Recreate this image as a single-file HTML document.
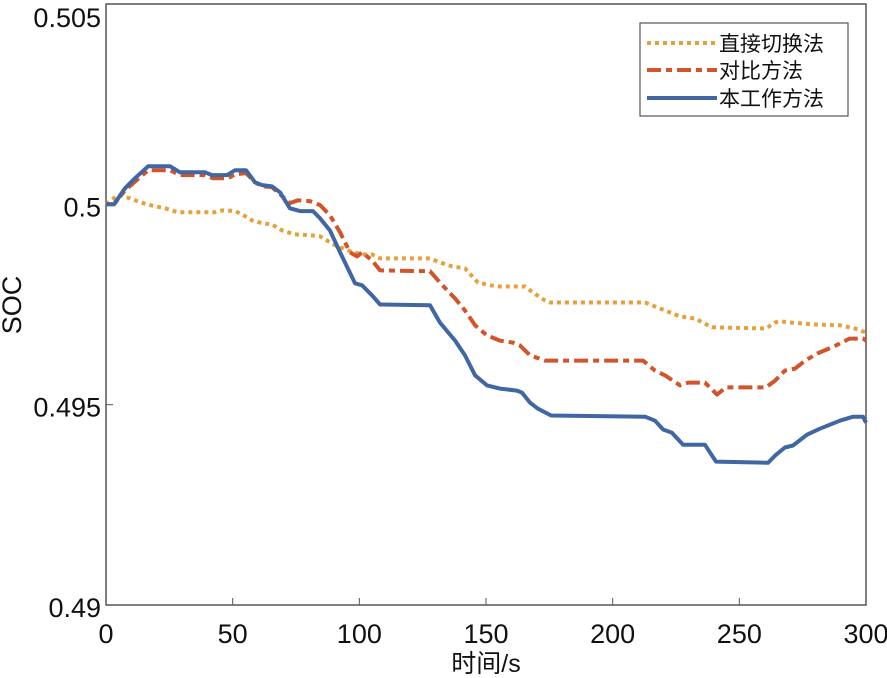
<!DOCTYPE html>
<html><head><meta charset="utf-8"><style>
html,body{margin:0;padding:0;background:#fff;}
svg{display:block;font-family:"Liberation Sans","Noto Sans CJK SC",sans-serif;}
</style></head><body>
<svg id="chart" width="887" height="678" viewBox="0 0 887 678">
<g id="axes"></g>
<g id="series"></g>
<g id="legend"></g>
</svg>
<script>
const xTicks=[0,50,100,150,200,250,300];
const yTicks=[0.49,0.495,0.5,0.505];
const yTickLabels=["0.49","0.495","0.5","0.505"];
const seriesNames=["直接切换法","对比方法","本工作方法"];
const tDirect=[0,4.7,9.5,13.4,17.4,23.3,28.4,37.1,43,46.2,50.9,53.7,57.6,61.6,65.5,69.5,74.4,80.5,84.5,90.4,96.3,101.1,105,108.2,127.9,131.8,136.6,141.7,146.8,151.6,155.5,165.4,168.5,173.3,175.3,212.8,216.7,220.7,226.6,232.5,239.2,260.5,264.1,266,270,274,279.9,289.7,295.6,300];
const vDirect=[0.5,0.50023,0.50015,0.50005,0.49998,0.4999,0.4998,0.4998,0.4998,0.49985,0.49983,0.49975,0.4996,0.49953,0.4995,0.49935,0.49925,0.49923,0.4992,0.49898,0.49883,0.49875,0.49875,0.49865,0.49865,0.49855,0.49845,0.4984,0.49805,0.49798,0.49795,0.49795,0.4978,0.4976,0.49755,0.49755,0.49745,0.49735,0.4972,0.49715,0.49693,0.4969,0.49705,0.49708,0.49705,0.49703,0.497,0.49698,0.4969,0.4968];
const tCompare=[0,3.2,7.5,16.6,25.3,29.2,39.1,42.2,48.2,50.9,55.3,58.8,61.6,65.5,72.6,75.8,80.5,84.5,88.4,92.4,96.3,99.1,101.1,105,108.2,127.9,131.8,137.8,141.7,145.7,150.4,155.5,160.6,163.4,167.4,173.3,212,216.7,220.7,226.6,229.8,236.4,239.6,241.2,244.7,260.5,264.1,268,272,276,280.9,287.2,293.5,298.8,300];
const vCompare=[0.5,0.5,0.50035,0.50085,0.50085,0.50073,0.50073,0.50065,0.50065,0.50075,0.50078,0.50055,0.50045,0.50043,0.50003,0.5001,0.50008,0.49998,0.49973,0.4993,0.4988,0.4987,0.4988,0.4986,0.49835,0.49833,0.49805,0.49765,0.49735,0.49698,0.49673,0.4966,0.49655,0.49648,0.49623,0.4961,0.4961,0.49585,0.49573,0.49548,0.49555,0.49555,0.49535,0.49525,0.49543,0.49543,0.4956,0.49585,0.4959,0.4961,0.49628,0.49645,0.49665,0.49665,0.4966];
const tOurs=[0,3.2,7.5,11.4,16.6,25.3,29.2,39.1,41.8,47.8,50.9,55.3,58.8,61.6,65.5,68.7,72.6,76.6,81.7,84.5,88.4,92.4,98.3,101.1,105,108.2,127.9,131.8,137.8,141.7,145.7,150.4,155.5,162.2,164.2,167.4,170.5,175.7,212.8,216.7,219.9,223.4,227.8,236.4,240.8,261.3,264.1,268,271.2,276.7,281.8,289.7,294.9,298.8,300];
const vOurs=[0.5,0.5,0.5004,0.50065,0.50095,0.50095,0.5008,0.5008,0.50073,0.50073,0.50085,0.50085,0.50055,0.50048,0.50045,0.5003,0.4999,0.49983,0.49983,0.49965,0.49935,0.4988,0.49803,0.49798,0.49773,0.4975,0.49748,0.49705,0.4966,0.49623,0.49573,0.49548,0.4954,0.49535,0.4953,0.49505,0.4949,0.49473,0.4947,0.4946,0.49438,0.4943,0.494,0.494,0.49358,0.49355,0.49373,0.49393,0.49398,0.49425,0.4944,0.4946,0.4947,0.4947,0.49455];

const L=106,R=866,T=4,B=605;
const xs=t=>L+(t-0)/(300-0)*(R-L);
const ys=v=>B-(v-0.49)/(0.505-0.49)*(B-T);
const NS="http://www.w3.org/2000/svg";
function mk(tag,attrs,parent){const e=document.createElementNS(NS,tag);for(const k in attrs)e.setAttribute(k,attrs[k]);parent.appendChild(e);return e;}
const axes=document.getElementById('axes');
const frame=mk('rect',{x:L,y:T,width:R-L,height:B-T,fill:'none',stroke:'#555',"stroke-width":1.5},axes);


xTicks.forEach(t=>{
  const x=xs(t);
  const tk=mk('line',{x1:x,x2:x,y1:B,y2:B-7,stroke:'#555',"stroke-width":1},axes);
  
  
  const lb=mk('text',{x:x,y:643,"text-anchor":"middle","font-size":27,fill:'#111'},axes);
  lb.textContent=String(t);
  
  
});
yTicks.forEach((v,i)=>{
  const y=ys(v);
  const tk=mk('line',{x1:L,x2:L+7,y1:y,y2:y,stroke:'#555',"stroke-width":1},axes);
  
  
  const lb=mk('text',{x:101,y:Math.max(y+12,27),"text-anchor":"end","font-size":27,fill:'#111'},axes);
  lb.textContent=yTickLabels[i];
  
  
});
const xt=mk('text',{x:486,y:672,"text-anchor":"middle","font-size":25,fill:'#111'},axes);
xt.textContent="时间/s";


const yt=mk('text',{x:0,y:0,"text-anchor":"middle","font-size":27,fill:'#111',transform:"translate(21,305) rotate(-90)"},axes);
yt.textContent="SOC";



const styles=[
 {c:'#e5a23c',d:'4 4',n:'series-direct-switch'},
 {c:'#d1542a',d:'14 5 6 5',n:'series-comparison'},
 {c:'#4066a3',d:'',n:'series-this-work'}];
const data=[[tDirect,vDirect],[tCompare,vCompare],[tOurs,vOurs]];
const sg=document.getElementById('series');
data.forEach((d,i)=>{
  const pts=d[0].map((t,j)=>xs(t).toFixed(1)+','+ys(d[1][j]).toFixed(1)).join(' ');
  const a={points:pts,fill:'none',stroke:styles[i].c,"stroke-width":4,"stroke-linejoin":"round"};
  if(styles[i].d)a["stroke-dasharray"]=styles[i].d;
  const pl=mk('polyline',a,sg);
  
  
});
const lg=document.getElementById('legend');
const box=mk('rect',{x:640,y:23,width:208,height:93,fill:'#fff',stroke:'#555',"stroke-width":1.2},lg);


const rowsY=[43,70,98];
seriesNames.forEach((nm,i)=>{
  const a={x1:647,x2:717,y1:rowsY[i],y2:rowsY[i],stroke:styles[i].c,"stroke-width":4};
  if(styles[i].d)a["stroke-dasharray"]=styles[i].d;
  const ln=mk('line',a,lg);
  
  
  const tx=mk('text',{x:719,y:rowsY[i]+8,"font-size":21,fill:'#111'},lg);
  tx.textContent=nm;
  
  
});
</script>
</body></html>
